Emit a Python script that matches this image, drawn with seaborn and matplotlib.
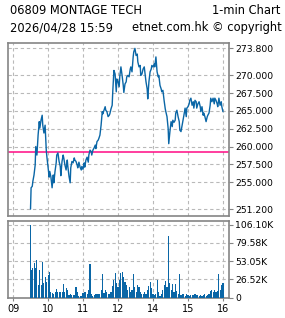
import matplotlib
matplotlib.use("Agg")
import matplotlib.pyplot as plt
import seaborn as sns
import pandas as pd

# ---------------- data ----------------
times = [
    "09:30", "09:31", "09:33", "09:34", "09:36", "09:38", "09:39", "09:41", "09:43", "09:45",
    "09:46", "09:48", "09:50", "09:51", "09:53", "09:55", "09:57", "09:58", "10:00", "10:02",
    "10:03", "10:05", "10:07", "10:09", "10:10", "10:12", "10:14", "10:15", "10:17", "10:19",
    "10:21", "10:22", "10:24", "10:26", "10:27", "10:29", "10:31", "10:33", "10:34", "10:36",
    "10:38", "10:39", "10:41", "10:43", "10:45", "10:46", "10:48", "10:50", "10:51", "10:53",
    "10:55", "10:57", "10:58", "11:00", "11:02", "11:03", "11:05", "11:07", "11:09", "11:10",
    "11:12", "11:14", "11:15", "11:17", "11:19", "11:21", "11:22", "11:24", "11:26", "11:27",
    "11:29", "11:31", "11:33", "11:34", "11:36", "11:38", "11:39", "11:41", "11:43", "11:45",
    "11:46", "11:48", "11:50", "11:51", "11:53", "11:55", "11:57", "11:58", "12:00", "13:02",
    "13:03", "13:05", "13:07", "13:09", "13:10", "13:12", "13:14", "13:15", "13:17", "13:19",
    "13:21", "13:22", "13:24", "13:26", "13:27", "13:29", "13:31", "13:33", "13:34", "13:36",
    "13:38", "13:39", "13:41", "13:43", "13:45", "13:46", "13:48", "13:50", "13:51", "13:53",
    "13:55", "13:57", "13:58", "14:00", "14:02", "14:03", "14:05", "14:07", "14:09", "14:10",
    "14:12", "14:14", "14:15", "14:17", "14:19", "14:21", "14:22", "14:24", "14:26", "14:27",
    "14:29", "14:31", "14:33", "14:34", "14:36", "14:38", "14:39", "14:41", "14:43", "14:45",
    "14:46", "14:48", "14:50", "14:51", "14:53", "14:55", "14:57", "14:58", "15:00", "15:02",
    "15:03", "15:05", "15:07", "15:09", "15:10", "15:12", "15:14", "15:15", "15:17", "15:19",
    "15:21", "15:22", "15:24", "15:26", "15:27", "15:29", "15:31", "15:33", "15:34", "15:36",
    "15:38", "15:39", "15:41", "15:43", "15:45", "15:46", "15:48", "15:50", "15:51", "15:53",
    "15:55", "15:57", "15:58", "16:00",
]

prices = [
    251.2, 254.2, 254.4, 255.1, 256.0, 257.4, 260.0, 258.8, 261.6, 263.5,
    262.6, 263.7, 264.4, 263.0, 261.9, 263.0, 259.5, 258.6, 257.1, 255.7,
    256.5, 255.7, 254.2, 256.0, 254.9, 256.5, 257.7, 258.8, 259.1, 257.9,
    257.2, 255.9, 257.9, 258.8, 258.4, 257.4, 256.7, 258.1, 257.2, 255.8,
    254.9, 257.0, 257.9, 257.7, 258.4, 258.1, 257.9, 257.4, 257.0, 257.8,
    257.1, 256.7, 257.2, 256.8, 257.7, 257.1, 258.1, 258.5, 257.8, 258.8,
    259.5, 259.3, 258.8, 259.5, 259.8, 260.2, 259.7, 260.7, 260.9, 261.1,
    261.6, 263.0, 264.9, 264.6, 265.1, 265.6, 265.1, 264.9, 264.2, 264.4,
    264.6, 265.3, 265.8, 267.7, 270.7, 270.2, 267.7, 269.5, 269.1, 268.4,
    269.8, 271.2, 270.0, 268.6, 267.6, 268.8, 269.1, 269.8, 270.0, 269.8,
    270.9, 271.2, 270.5, 272.6, 273.3, 273.8, 272.8, 273.0, 271.9, 271.2,
    271.4, 270.0, 270.2, 270.9, 271.2, 270.5, 269.1, 268.1, 266.7, 269.1,
    270.5, 270.9, 271.4, 271.2, 271.6, 271.2, 272.6, 270.5, 269.8, 270.0,
    268.6, 268.1, 267.7, 267.9, 266.5, 265.3, 264.9, 264.2, 262.5, 260.4,
    262.1, 263.5, 262.8, 263.7, 263.4, 263.7, 264.7, 265.1, 264.2, 263.5,
    262.3, 262.1, 263.0, 263.5, 264.4, 265.4, 264.2, 265.4, 265.6, 266.0,
    266.5, 266.8, 265.8, 266.3, 265.4, 266.5, 266.3, 265.4, 266.0, 266.3,
    265.6, 264.9, 265.6, 264.4, 264.7, 264.2, 263.5, 264.2, 264.4, 264.7,
    265.8, 266.8, 266.3, 266.8, 266.0, 266.8, 266.5, 266.0, 265.6, 266.8,
    265.8, 266.3, 265.6, 264.9,
]

volumes = [
    106100, 40000, 42500, 37700, 49700, 28000, 42500, 54600, 18400, 40100,
    35300, 18400, 32800, 52200, 20800, 30400, 18400, 23200, 32800, 37700,
    13500, 8700, 6300, 4800, 3900, 7700, 6300, 12600, 8700, 7700,
    8700, 6300, 7700, 19300, 18400, 7700, 14500, 6300, 11100, 3900,
    5800, 3900, 3900, 3900, 2900, 3900, 15900, 7700, 4800, 1900,
    1900, 1900, 1900, 6300, 7700, 4800, 8700, 4800, 11100, 3900,
    48300, 3900, 5800, 1900, 3900, 4800, 3900, 4800, 3900, 5800,
    4800, 11100, 33800, 30400, 6300, 11100, 4800, 7700, 5800, 4800,
    3900, 8700, 17400, 11100, 25600, 35300, 15900, 20800, 15900, 3900,
    25600, 35300, 36700, 30400, 19300, 23200, 11100, 18400, 11100, 15900,
    8700, 4800, 11100, 20800, 33800, 15900, 8700, 11100, 18400, 15900,
    6300, 7700, 4800, 5800, 3900, 7700, 4800, 11100, 6300, 17400,
    23200, 13500, 7700, 4800, 3900, 1900, 5800, 25600, 8700, 3900,
    2900, 4800, 5800, 11100, 18400, 20800, 24200, 15900, 89800, 30400,
    20800, 11100, 19300, 3900, 7700, 19300, 4800, 9700, 5800, 33800,
    8700, 3900, 5800, 3900, 4800, 1900, 3900, 4800, 3900, 2900,
    1900, 3900, 3900, 1900, 3900, 4800, 2900, 3900, 3900, 1900,
    2900, 3900, 2900, 3900, 2900, 4800, 2900, 3900, 3900, 5800,
    7700, 9700, 11100, 7700, 9700, 11100, 7700, 9700, 7700, 33800,
    11100, 14500, 18400, 20800,
]

prev_close = 259.2
price_ticks = [251.2, 255.0, 257.5, 260.0, 262.5, 265.0, 267.5, 270.0, 273.8]
price_tick_labels = ["251.200", "255.000", "257.500", "260.000", "262.500",
                     "265.000", "267.500", "270.000", "273.800"]
vol_ticks = [0, 26525, 53050, 79575, 106100]
vol_tick_labels = ["0", "26.52K", "53.05K", "79.58K", "106.10K"]
hour_ticks = ["09:00", "10:00", "11:00", "12:00", "14:00", "15:00", "16:00"]
hour_labels = ["09", "10", "11", "12", "14", "15", "16"]

title_left = "06809 MONTAGE TECH"
title_right = "1-min Chart"
sub_left = "2026/04/28 15:59"
sub_right = "etnet.com.hk \u00a9 copyright"


def trading_minute(t):
    """Minutes since 09:00 with the 12:00-13:00 lunch break removed."""
    h, m = map(int, t.split(":"))
    mins = (h - 9) * 60 + m
    if h >= 13:
        mins -= 60
    return mins


df = pd.DataFrame({
    "pos": [trading_minute(t) for t in times],
    "price": prices,
    "volume": volumes,
})

# ---------------- style ----------------
sns.set_style("white")
plt.rcParams["font.family"] = ["DejaVu Sans"]

BLUE = "#0a66a6"
MAGENTA = "#ff0a84"
GRID = "#b9b9b9"
SPINE = "#858585"

W, H = 285, 318
fig = plt.figure(figsize=(W / 100, H / 100), dpi=100)
fig.patch.set_facecolor("white")


def px_axes(left, top, right, bottom):
    return fig.add_axes([left / W, 1 - bottom / H, (right - left) / W, (bottom - top) / H])


ax_p = px_axes(8, 42.7, 229, 216)
ax_v = px_axes(8, 221, 229, 297.7)

xlim = (-8.6, 370.3)
hour_pos = [trading_minute(t) for t in hour_ticks]

for ax in (ax_p, ax_v):
    ax.set_xlim(*xlim)
    ax.set_facecolor("white")
    for sp in ax.spines.values():
        sp.set_color(SPINE)
        sp.set_linewidth(1.2)
    ax.set_xticks(hour_pos)
    for xp in hour_pos:
        ax.axvline(xp, color=GRID, lw=0.8, ls=(0, (3, 2.5)), zorder=0)
    ax.yaxis.tick_right()
    ax.tick_params(axis="y", which="both", right=True, left=False, labelright=True,
                   labelleft=False, length=3, width=0.8, color=SPINE, pad=1.5,
                   labelsize=6.7, labelcolor="black")

# price panel
ax_p.set_ylim(250.23, 274.6)
ax_p.set_yticks(price_ticks)
ax_p.set_yticklabels(price_tick_labels)
for yv in price_ticks:
    ax_p.axhline(yv, color=GRID, lw=0.8, ls=(0, (3, 2.5)), zorder=0)
ax_p.tick_params(axis="x", bottom=False, labelbottom=False)
ax_p.axhline(prev_close, color=MAGENTA, lw=1.1, zorder=2)
sns.lineplot(data=df, x="pos", y="price", ax=ax_p, color=BLUE, lw=1.0,
             estimator=None, sort=False, zorder=3)
ax_p.set_xlabel("")
ax_p.set_ylabel("")

# volume panel
ax_v.set_ylim(0, 111200)
ax_v.set_yticks(vol_ticks)
ax_v.set_yticklabels(vol_tick_labels)
for yv in vol_ticks[1:]:
    ax_v.axhline(yv, color=GRID, lw=0.8, ls=(0, (3, 2.5)), zorder=0)
ax_v.bar(df["pos"], df["volume"], width=1.75, color=BLUE, linewidth=0, zorder=3)
ax_v.set_xticklabels(hour_labels)
ax_v.tick_params(axis="x", bottom=True, length=2.5, width=0.8, color=SPINE, pad=2,
                 labelsize=7, labelcolor="black")
ax_v.set_xlabel("")
ax_v.set_ylabel("")

# header texts
fig.text(10 / W, 1 - 11 / H, title_left, ha="left", va="center", fontsize=8.3, color="black")
fig.text(280 / W, 1 - 11 / H, title_right, ha="right", va="center", fontsize=8.3, color="black")
fig.text(10 / W, 1 - 28 / H, sub_left, ha="left", va="center", fontsize=8.3, color="black")
fig.text(282 / W, 1 - 28 / H, sub_right, ha="right", va="center", fontsize=8.3, color="black")

fig.savefig("out.png", dpi=100, facecolor="white")
